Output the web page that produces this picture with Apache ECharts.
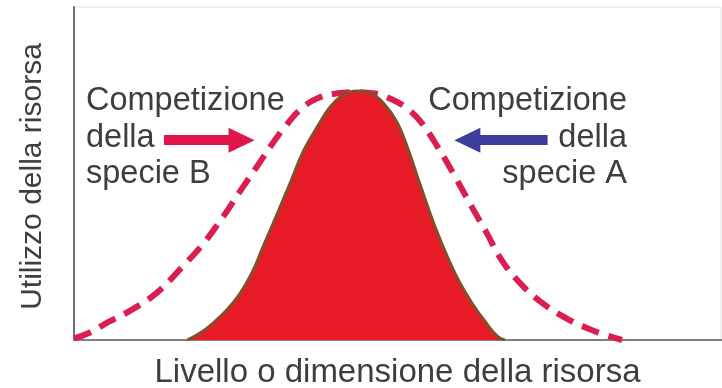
<!DOCTYPE html>
<html>
<head>
<meta charset="utf-8">
<title>Competizione</title>
<script src="https://cdn.jsdelivr.net/npm/echarts@6/dist/echarts.min.js"></script>
<style>
  html, body { margin: 0; padding: 0; background: #fff; }
  #main { width: 722px; height: 388px; }
</style>
</head>
<body>
<div id="main"></div>
<script>
// curva larga tratteggiata (nicchia fondamentale), x/y in 0..100
var dashedX = [0, 2.3, 5.4, 8.5, 12.7, 16.7, 19.8, 22.9, 26.1, 28.6, 30.5, 32.6, 35.3, 37.9, 40.5, 43.3, 46.5, 49.4, 51.5, 53.6, 56.2, 59.2, 61.5, 63.8, 65.8, 68.5, 72.1, 76.3, 80.3, 84.7];
var dashedY = [0.5, 2.1, 5.5, 8.6, 14.0, 21.9, 28.5, 36.6, 45.9, 53.0, 58.5, 64.0, 69.8, 72.8, 74.0, 74.4, 74.0, 72.0, 69.5, 65.5, 58.0, 48.0, 39.9, 32.1, 24.9, 18.0, 11.5, 6.3, 2.8, 0];

// curva piena (nicchia realizzata)
var solidX = [17.5, 19.5, 21.5, 23.6, 25.7, 27.7, 29.2, 30.8, 32.3, 33.7, 35.4, 37.6, 39.6, 41.6, 43.7, 45.7, 47.8, 49.9, 51.5, 53.0, 54.5, 56.0, 57.6, 59.4, 61.5, 63.7, 65.5, 66.6];
var solidY = [0, 2.1, 5.1, 9.0, 14.1, 21.0, 27.9, 35.1, 42.0, 48.5, 56.5, 64.0, 70.0, 73.6, 74.8, 74.2, 71.2, 65.5, 58.0, 49.5, 41.0, 33.0, 25.5, 18.0, 11.1, 5.1, 1.0, 0];

// frecce: [x inizio, x fine, y]
var arrowB = [13.9, 25.9, 60];
var arrowA = [73.2, 60.8, 60];

var labelB = ['Competizione', 'della', 'specie B'];
var labelA = ['Competizione', 'della', 'specie A'];

function pairs(xs, ys) {
    return xs.map(function (x, i) { return [x, ys[i]]; });
}

var chart = echarts.init(document.getElementById('main'));

var textColor = '#3e3e3e';
var fontFamily = '"Liberation Sans", Arial, Helvetica, sans-serif';

var option = {
    animation: false,
    backgroundColor: '#fff',
    grid: {
        left: 74, right: 1, top: 7, bottom: 48,
        outerBoundsMode: 'none',
        show: true, borderColor: '#e4e4e4', borderWidth: 1
    },
    xAxis: [{
        type: 'value', min: 0, max: 100,
        name: 'Livello o dimensione della risorsa',
        nameLocation: 'middle', nameGap: 16,
        nameTextStyle: { color: textColor, fontSize: 33, fontFamily: fontFamily, verticalAlign: 'top' },
        axisLine: { show: true, onZero: false, lineStyle: { color: '#555', width: 2 } },
        axisTick: { show: false }, axisLabel: { show: false }, splitLine: { show: false }
    }, {
        type: 'value', min: 0, max: 100, position: 'top',
        axisLine: { show: true, lineStyle: { color: '#808080', width: 2 } },
        axisTick: { show: false }, axisLabel: { show: false }, splitLine: { show: false }
    }],
    yAxis: {
        type: 'value', min: 0, max: 100,
        name: 'Utilizzo della risorsa',
        nameLocation: 'middle', nameGap: 26,
        nameTextStyle: { color: textColor, fontSize: 30, fontFamily: fontFamily, padding: [0, 6, 0, 0] },
        axisLine: { show: true, lineStyle: { color: '#707070', width: 2 } },
        axisTick: { show: false }, axisLabel: { show: false }, splitLine: { show: false }
    },
    series: [{
        name: 'fondamentale',
        type: 'line',
        smooth: 0.4,
        symbol: 'none',
        z: 2,
        data: pairs(dashedX, dashedY),
        lineStyle: { color: '#dc1d50', width: 6, type: [18, 10], cap: 'butt' },
        markLine: {
            silent: true,
            symbol: ['none', 'triangle'],
            symbolSize: [25, 26],
            label: { show: false },
            lineStyle: { type: 'solid', width: 10 },
            data: [
                [{ coord: [arrowB[0], arrowB[2]], lineStyle: { color: '#e0154a' }, itemStyle: { color: '#e0154a' } },
                 { coord: [arrowB[1], arrowB[2]] }],
                [{ coord: [arrowA[0], arrowA[2]], lineStyle: { color: '#3c3d9c' }, itemStyle: { color: '#3c3d9c' } },
                 { coord: [arrowA[1], arrowA[2]] }]
            ]
        }
    }, {
        name: 'realizzata',
        type: 'line',
        smooth: 0.4,
        symbol: 'none',
        z: 3,
        data: pairs(solidX, solidY),
        lineStyle: { color: '#80502e', width: 3 },
        areaStyle: { color: '#e61b25', opacity: 1 }
    }],
    graphic: [{
        type: 'text',
        x: 86, y: 83,
        style: {
            text: labelB.join('\n'),
            font: '32.5px ' + fontFamily,
            lineHeight: 36.5,
            fill: textColor,
            align: 'left'
        }
    }, {
        type: 'text',
        x: 627, y: 83,
        style: {
            text: labelA.join('\n'),
            font: '32.5px ' + fontFamily,
            lineHeight: 36.5,
            fill: textColor,
            align: 'right'
        }
    }]
};

chart.setOption(option);
</script>
</body>
</html>
